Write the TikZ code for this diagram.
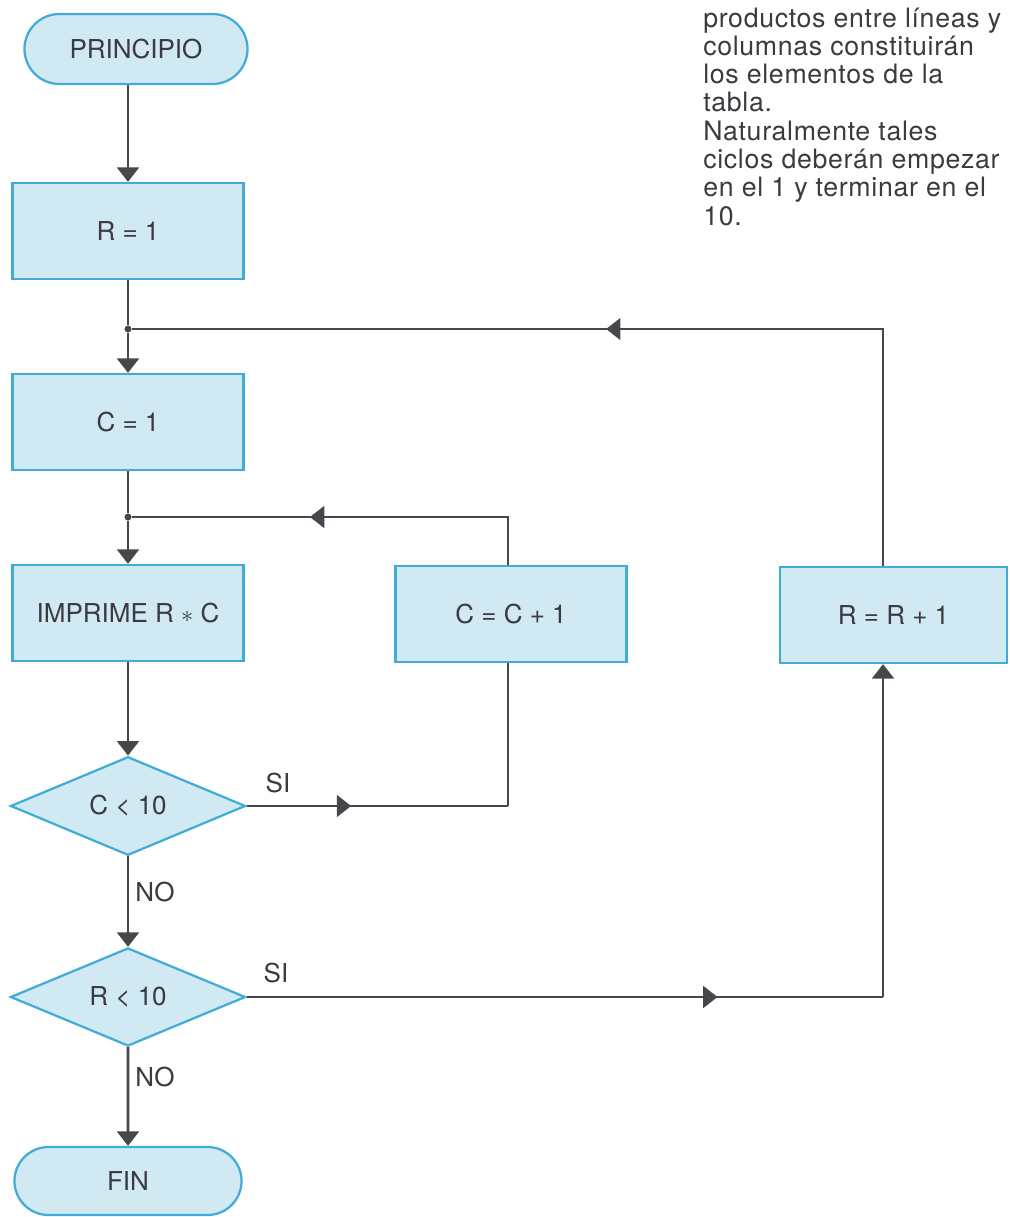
\documentclass[tikz,border=0pt]{standalone}
\usepackage{fontspec}
\setmainfont{TeX Gyre Heros}
\newfontfamily\notefont[LetterSpace=2.5]{TeX Gyre Heros}
\usepackage{tikz}
\usetikzlibrary{positioning}
\usetikzlibrary{shapes}
\usetikzlibrary{arrows.meta}
\usetikzlibrary{decorations.markings}
\definecolor{fc-blue}{RGB}{66,172,214}
\definecolor{fc-fill}{RGB}{208,233,242}
\definecolor{fc-line}{RGB}{70,70,76}
\definecolor{fc-text}{RGB}{58,58,64}
\tikzset{
  blk/.style 2 args={
    draw=fc-blue,
    fill=fc-fill,
    line width=1.6pt,
    text=fc-text,
    inner sep=0pt,
    minimum width=#1,
    minimum height=#2,
    font=\fontsize{18.5}{21}\selectfont},
  proc/.style={rectangle, blk={5.775cm}{2.4cm}},
  term/.style 2 args={rounded rectangle, blk={#1}{#2}},
  cond/.style={diamond, blk={5.875cm}{2.45cm}},
}

\begin{document}
\begin{tikzpicture}[
  x=0.025cm, y=-0.025cm,
  line/.style={draw=fc-line, line width=2.1pt},
  arr/.style={line, -{Triangle[length=0.36cm,width=0.54cm]}},
  midarr/.style={line, postaction={decorate},
    decoration={markings, mark=at position #1 with {\arrow[color=fc-line]{Triangle[length=0.36cm,width=0.54cm]}}}},
  dot/.style={circle, fill=fc-line, inner sep=0pt, minimum size=5pt},
  lbl/.style={text=fc-text, font=\fontsize{18.5}{21}\selectfont},
  note/.style={text=fc-text, inner sep=0pt, anchor=base west, font=\notefont\fontsize{19}{21}\selectfont}]
  \useasboundingbox (0,0) rectangle (1009,1217);
  \pgfmathsetmacro{\col}{128}

  % main column
  \node[term={5.575cm}{1.75cm}] (fc-start) at (136, 49) {PRINCIPIO};
  \node[proc] (fc-r1) at (\col, 231) {R = 1};
  \node[dot] (fc-j1) at (\col, 329) {};
  \node[proc] (fc-c1) at (\col, 422) {C = 1};
  \node[dot] (fc-j2) at (\col, 517) {};
  \node[proc] (fc-prt) at (\col, 613) {IMPRIME R $\ast$ C};
  \node[cond] (fc-ccond) at (\col, 806) {C < 10};
  \node[cond] (fc-rcond) at (\col, 997) {R < 10};
  \node[term={5.675cm}{1.7cm}] (fc-fin) at (\col, 1181) {FIN};

  % loop boxes
  \node[proc] (fc-cinc) at (511, 614) {C = C + 1};
  \node[proc, minimum width=5.675cm] (fc-rinc) at (893.5, 615) {R = R + 1};
  \coordinate (fc-cturn) at (508, 806);
  \coordinate (fc-ctop) at (508, 517);
  \coordinate (fc-rturn) at (883, 997);
  \coordinate (fc-rtop) at (883, 329);

  % labels
  \node[lbl] (fc-si1) at (278, 783) {SI};
  \node[lbl] (fc-no1) at (155, 892) {NO};
  \node[lbl] (fc-si2) at (276, 973) {SI};
  \node[lbl] (fc-no2) at (155, 1077) {NO};

  % side note
  \foreach \ln [count=\k from 0] in {productos entre líneas y, columnas constituirán,
    los elementos de la, tabla., Naturalmente tales, ciclos deberán empezar,
    en el 1 y terminar en el, 10.} {
    \node[note] (fc-txt\k) at (703, 27+28.3*\k) {\ln};
  }

  % connectors
  \draw[arr] (fc-start.south -| fc-r1.north) -- (fc-r1.north);
  \draw[line] (fc-r1) -- (fc-j1);
  \draw[arr] (fc-j1) -- (fc-c1);
  \draw[line] (fc-c1) -- (fc-j2);
  \draw[arr] (fc-j2) -- (fc-prt);
  \draw[arr] (fc-prt) -- (fc-ccond);
  \draw[arr] (fc-ccond) -- (fc-rcond);
  \draw[arr] (fc-rcond) -- (fc-fin);
  % inner loop
  \draw[midarr=0.40] (fc-ccond.east) -- (fc-cturn);
  \draw[line] (fc-cturn) -- (fc-cinc.south -| fc-cturn);
  \draw[midarr=0.58] (fc-cinc.north -| fc-ctop) -- (fc-ctop) -- (fc-j2);
  % outer loop
  \draw[midarr=0.74] (fc-rcond.east) -- (fc-rturn);
  \draw[arr] (fc-rturn) -- (fc-rinc.south -| fc-rturn);
  \draw[midarr=0.52] (fc-rinc.north -| fc-rtop) -- (fc-rtop) -- (fc-j1);
\end{tikzpicture}
\end{document}
